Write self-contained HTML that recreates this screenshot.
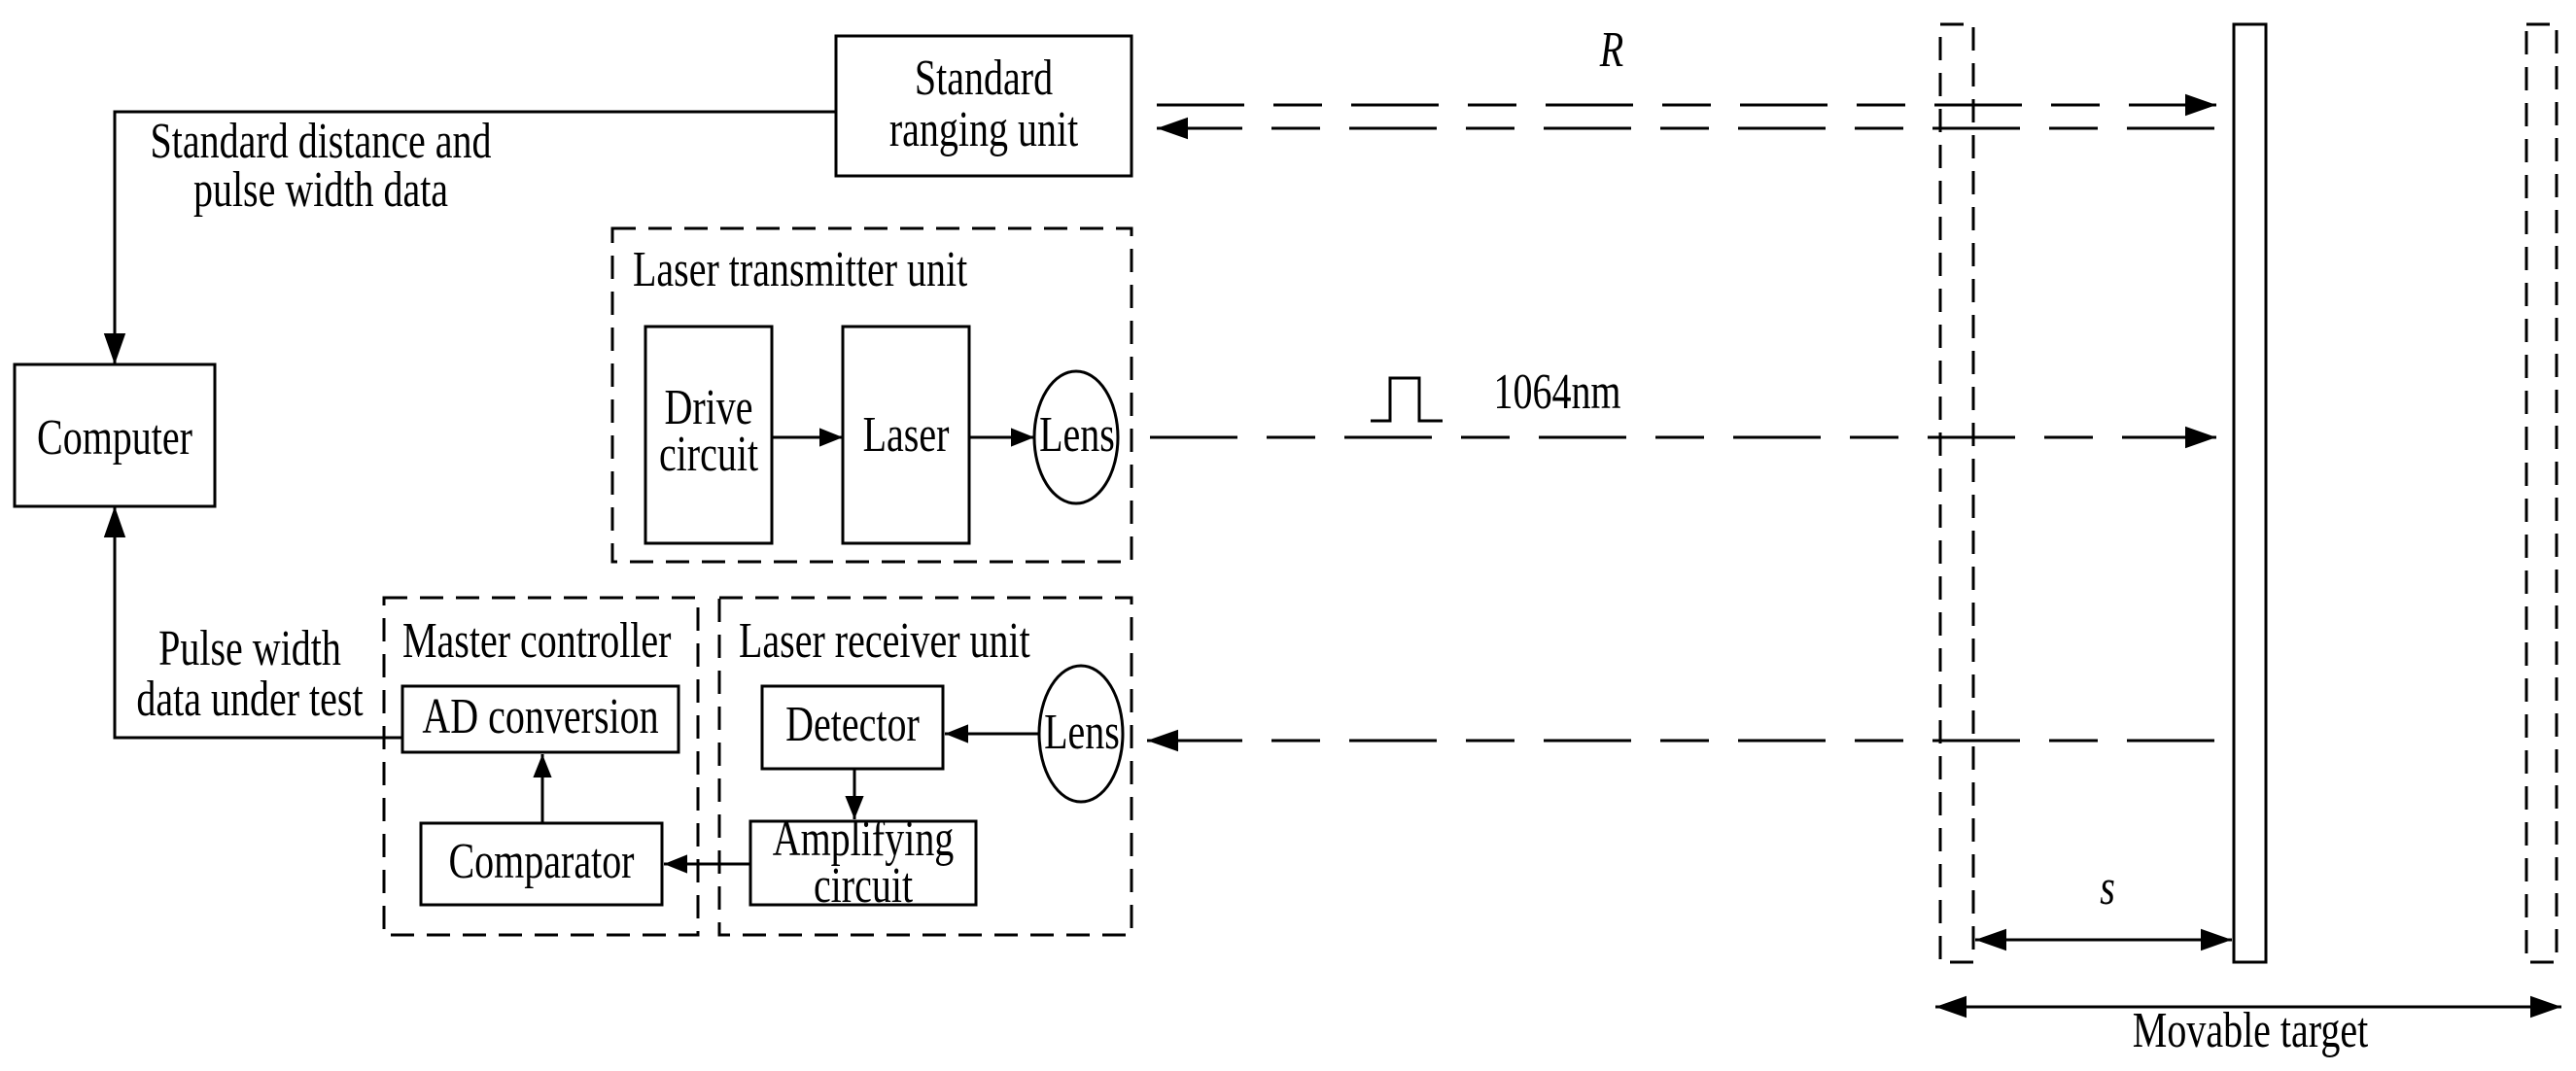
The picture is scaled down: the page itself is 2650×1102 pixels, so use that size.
<!DOCTYPE html>
<html><head><meta charset="utf-8"><style>
html,body{margin:0;padding:0;background:#fff;}
svg{display:block;}
text{font-family:"Liberation Serif",serif;font-size:40px;fill:#000;}
</style></head><body>
<svg width="2650" height="1102" viewBox="0 0 2650 1102" xmlns="http://www.w3.org/2000/svg">
<defs>
<marker id="b" viewBox="0 0 10 10" refX="10" refY="5" markerWidth="32" markerHeight="32" markerUnits="userSpaceOnUse" orient="auto-start-reverse"><path d="M0,1.5 L10,5 L0,8.5 z" fill="#000"/></marker>
<marker id="c" viewBox="0 0 10 10" refX="10" refY="5" markerWidth="24" markerHeight="24" markerUnits="userSpaceOnUse" orient="auto-start-reverse"><path d="M0,1 L10,5 L0,9 z" fill="#000"/></marker>
</defs>
<g fill="none" stroke="#000" stroke-width="3">
<rect x="860" y="37" width="304" height="144"/>
<polyline points="860,115 118,115 118,375" marker-end="url(#b)"/>
<rect x="15" y="375" width="206" height="146"/>
<rect x="630" y="235" width="534" height="343" stroke-dasharray="24 13"/>
<rect x="664" y="336" width="130" height="223"/>
<rect x="867" y="336" width="130" height="223"/>
<ellipse cx="1107" cy="450" rx="43" ry="68"/>
<line x1="794" y1="450" x2="867" y2="450" marker-end="url(#c)"/>
<line x1="997" y1="450" x2="1064" y2="450" marker-end="url(#c)"/>
<line x1="1190" y1="108" x2="2250" y2="108" stroke-dasharray="90 30 50 30"/>
<line x1="2250" y1="108" x2="2280" y2="108" marker-end="url(#b)"/>
<line x1="2278" y1="132" x2="1220" y2="132" stroke-dasharray="90 30 50 30"/>
<line x1="1220" y1="132" x2="1190" y2="132" marker-end="url(#b)"/>
<line x1="1183" y1="450" x2="2250" y2="450" stroke-dasharray="90 30 50 30"/>
<line x1="2250" y1="450" x2="2280" y2="450" marker-end="url(#b)"/>
<line x1="2278" y1="762" x2="1215" y2="762" stroke-dasharray="90 30 50 30"/>
<line x1="1215" y1="762" x2="1180" y2="762" marker-end="url(#b)"/>
<polyline points="1410,433 1430,433 1430,389 1460,389 1460,433 1484,433"/>
<rect x="395" y="615" width="323" height="347" stroke-dasharray="24 13"/>
<rect x="414" y="706" width="284" height="68"/>
<rect x="433" y="847" width="248" height="84"/>
<line x1="558" y1="847" x2="558" y2="776" marker-end="url(#c)"/>
<polyline points="414,759 118,759 118,521" marker-end="url(#b)"/>
<rect x="740" y="615" width="424" height="347" stroke-dasharray="24 13"/>
<rect x="784" y="706" width="186" height="85"/>
<ellipse cx="1112" cy="755" rx="43" ry="70"/>
<line x1="1069" y1="755" x2="972" y2="755" marker-end="url(#c)"/>
<line x1="879" y1="791" x2="879" y2="843" marker-end="url(#c)"/>
<rect x="772" y="845" width="232" height="86"/>
<line x1="772" y1="889" x2="683" y2="889" marker-end="url(#c)"/>
<rect x="2298" y="25" width="33" height="965"/>
<rect x="1996" y="25" width="34" height="965" stroke-dasharray="24 13"/>
<rect x="2599" y="25" width="31" height="965" stroke-dasharray="24 13"/>
<line x1="2032" y1="967" x2="2296" y2="967" marker-start="url(#b)" marker-end="url(#b)"/>
<line x1="1991" y1="1036" x2="2635" y2="1036" marker-start="url(#b)" marker-end="url(#b)"/>
</g>
<g>
<text text-anchor="middle" transform="translate(1012,97) scale(1,1.3)">Standard</text>
<text text-anchor="middle" transform="translate(1012,150) scale(1,1.3)">ranging unit</text>
<text text-anchor="middle" transform="translate(330,162) scale(1,1.3)">Standard distance and</text>
<text text-anchor="middle" transform="translate(330,212) scale(1,1.3)">pulse width data</text>
<text text-anchor="middle" transform="translate(118,467) scale(1,1.3)">Computer</text>
<text transform="translate(651,294) scale(1,1.3)">Laser transmitter unit</text>
<text text-anchor="middle" transform="translate(729,436) scale(1,1.3)">Drive</text>
<text text-anchor="middle" transform="translate(729,484) scale(1,1.3)">circuit</text>
<text text-anchor="middle" transform="translate(932,464) scale(1,1.3)">Laser</text>
<text text-anchor="middle" transform="translate(1108,464) scale(1,1.3)">Lens</text>
<text text-anchor="middle" font-style="italic" transform="translate(1658,68) scale(1,1.3)">R</text>
<text text-anchor="middle" transform="translate(1602,420) scale(1,1.3)">1064nm</text>
<text transform="translate(414,676) scale(1,1.3)">Master controller</text>
<text transform="translate(760,676) scale(1,1.3)">Laser receiver unit</text>
<text text-anchor="middle" transform="translate(257,684) scale(1,1.3)">Pulse width</text>
<text text-anchor="middle" transform="translate(257,736) scale(1,1.3)">data under test</text>
<text text-anchor="middle" transform="translate(556,754) scale(1,1.3)">AD conversion</text>
<text text-anchor="middle" transform="translate(557,903) scale(1,1.3)">Comparator</text>
<text text-anchor="middle" transform="translate(877,762) scale(1,1.3)">Detector</text>
<text text-anchor="middle" transform="translate(1113,770) scale(1,1.3)">Lens</text>
<text text-anchor="middle" transform="translate(888,880) scale(1,1.3)">Amplifying</text>
<text text-anchor="middle" transform="translate(888,928) scale(1,1.3)">circuit</text>
<text text-anchor="middle" font-style="italic" transform="translate(2168,930) scale(1,1.3)">s</text>
<text text-anchor="middle" transform="translate(2315,1077) scale(1,1.3)">Movable target</text>
</g>
</svg>
</body></html>
